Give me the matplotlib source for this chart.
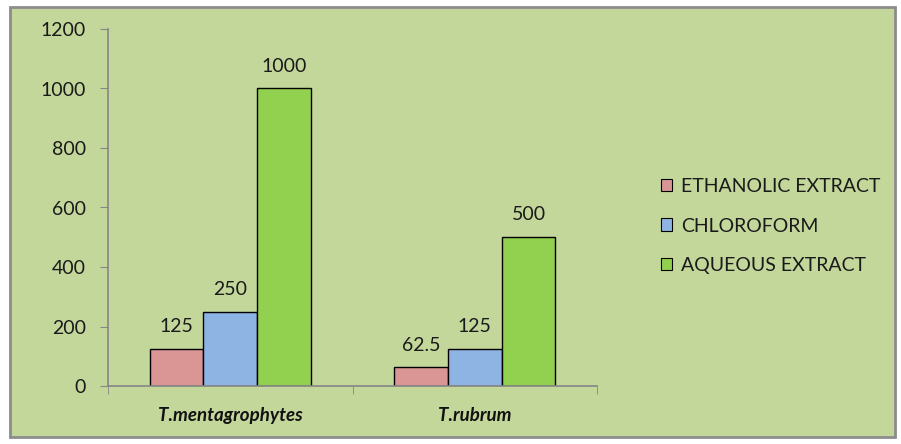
import matplotlib
matplotlib.use("Agg")
import matplotlib.pyplot as plt
from matplotlib.patches import Patch, Rectangle
import numpy as np

plt.rcParams["font.family"] = ["Lato", "DejaVu Sans"]

categories = ["T.mentagrophytes", "T.rubrum"]
series = ["ETHANOLIC EXTRACT", "CHLOROFORM", "AQUEOUS EXTRACT"]
ethanolic = [125, 62.5]
chloroform = [250, 125]
aqueous = [1000, 500]
values = [ethanolic, chloroform, aqueous]
value_labels = [["125", "62.5"], ["250", "125"], ["1000", "500"]]
colors = ["#D99694", "#8EB4E3", "#92D050"]
bg = "#C4D79B"
grey = "#868686"

fig = plt.figure(figsize=(9.01, 4.44), dpi=100, facecolor="white")
# outer chart border
fig.patches.append(Rectangle((10 / 901, 7 / 444), 885 / 901, 430 / 444,
                             transform=fig.transFigure, facecolor=bg,
                             edgecolor="#8C8C8C", lw=2, zorder=-10))

ax = fig.add_axes([108 / 901, 1 - 386 / 444, 489 / 901, 357 / 444])
ax.set_facecolor("none")

x = np.arange(len(categories))
w = 0.22
for i, (vals, labs, c, name) in enumerate(zip(values, value_labels, colors, series)):
    pos = x + (i - 1) * w
    ax.bar(pos, vals, w, color=c, edgecolor="black", lw=1, label=name, zorder=2)
    for p, v, t in zip(pos, vals, labs):
        ax.annotate(t, (p, v), xytext=(0, 10), textcoords="offset points",
                    ha="center", va="bottom", fontsize=14, color="#1a1a1a")

ax.set_xlim(-0.5, 1.5)
ax.set_ylim(0, 1200)
ax.set_yticks(range(0, 1201, 200))
ax.tick_params(axis="y", length=6, color=grey, labelsize=14, pad=10, labelcolor="#1a1a1a")
ax.set_xticks(x)
ax.set_xticklabels(categories, fontweight="bold", style="italic", fontsize=13.5,
                   color="#111111")
ax.tick_params(axis="x", which="major", length=0, pad=15)
ax.set_xticks([-0.5, 0.5, 1.5], minor=True)
ax.tick_params(axis="x", which="minor", length=6, color=grey)
for s in ["top", "right"]:
    ax.spines[s].set_visible(False)
for s in ["left", "bottom"]:
    ax.spines[s].set_color(grey)
    ax.spines[s].set_linewidth(1.2)

handles = [Patch(facecolor=c, edgecolor="black", lw=0.8) for c in colors]
fig.legend(handles, series, loc="center left", bbox_to_anchor=(643 / 901, 1 - 226 / 444),
           frameon=False, fontsize=14, handlelength=0.6, handleheight=0.6,
           handletextpad=0.45, labelspacing=1.15, labelcolor="#1a1a1a")

fig.savefig("out.png", dpi=100)
